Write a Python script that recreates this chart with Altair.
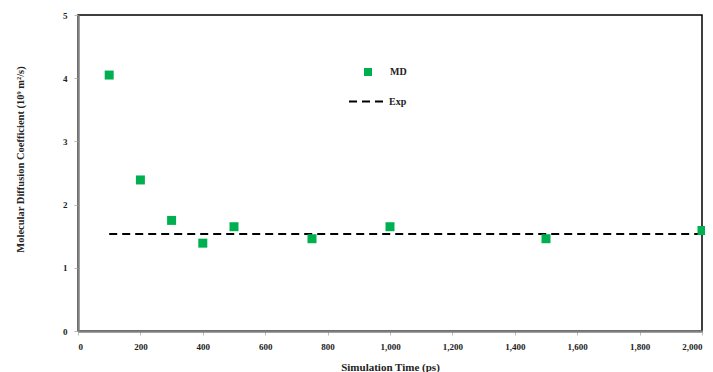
import altair as alt
import pandas as pd

time_ps = [100, 200, 300, 400, 500, 750, 1000, 1500, 2000]
md_values = [4.05, 2.39, 1.75, 1.39, 1.65, 1.46, 1.65, 1.46, 1.59]
exp_value = 1.535
exp_range = [100, 2000]
x_ticks = [0, 200, 400, 600, 800, 1000, 1200, 1400, 1600, 1800, 2000]
y_ticks = [0, 1, 2, 3, 4, 5]

md_df = pd.DataFrame({"t": time_ps, "D": md_values, "series": ["MD"] * len(time_ps)})
exp_df = pd.DataFrame({"t": [exp_range[0]], "t2": [exp_range[1]], "D": [exp_value], "series": ["Exp"]})

FONT = "Liberation Serif"

x_scale = alt.Scale(domain=[0, 2000], nice=False, zero=True)
y_scale = alt.Scale(domain=[0, 5], nice=False)

x_axis = alt.Axis(
    title="Simulation Time (ps)", values=x_ticks, format=",d", grid=False,
    domainColor="#808080", domainWidth=2.5, tickColor="#bbbbbb", tickSize=4,
    labelFont=FONT, labelFontWeight="bold", labelFontSize=9, labelColor="#222",
    labelPadding=7, titleFont=FONT, titleFontWeight="bold", titleFontSize=11,
    titleColor="#222", titlePadding=10,
)
y_axis = alt.Axis(
    title="Molecular Diffusion Coefficient (10⁹ m²/s)", values=y_ticks, format="d",
    grid=False,
    domainColor="#808080", domainWidth=2.5, tickColor="#bbbbbb", tickSize=4,
    labelFont=FONT, labelFontWeight="bold", labelFontSize=9, labelColor="#222",
    labelPadding=7, titleFont=FONT, titleFontWeight="bold", titleFontSize=10.5,
    titleColor="#222", titlePadding=37, titleY=144,
)

points = alt.Chart(md_df).mark_square(size=81, opacity=1, filled=True).encode(
    x=alt.X("t:Q", scale=x_scale, axis=x_axis),
    y=alt.Y("D:Q", scale=y_scale, axis=y_axis),
    color=alt.Color(
        "series:N",
        scale=alt.Scale(domain=["MD"], range=["#00b050"]),
        legend=alt.Legend(
            title=None, orient="none", legendX=285, legendY=52, padding=0,
            symbolType="square", symbolSize=64, symbolOpacity=1,
            labelFont=FONT, labelFontWeight="bold", labelFontSize=10,
            labelColor="#222", labelOffset=17,
        ),
    ),
)

exp_line = alt.Chart(exp_df).mark_rule(color="black", strokeWidth=2).encode(
    x=alt.X("t:Q", scale=x_scale),
    x2="t2:Q",
    y=alt.Y("D:Q", scale=y_scale),
    strokeDash=alt.StrokeDash(
        "series:N",
        scale=alt.Scale(domain=["Exp"], range=[[8, 5]]),
        legend=alt.Legend(
            title=None, orient="none", legendX=270, legendY=68, padding=0,
            symbolType="stroke", symbolSize=1225, symbolStrokeWidth=2,
            symbolStrokeColor="black",
            labelFont=FONT, labelFontWeight="bold", labelFontSize=10,
            labelColor="#222", labelOffset=4,
        ),
    ),
)

chart = alt.layer(exp_line, points).resolve_legend(
    color="independent", strokeDash="independent"
).properties(
    width=624, height=316,
    autosize=alt.AutoSizeParams(type="none"),
    padding={"left": 70, "top": 7, "right": 3, "bottom": 44},
    background="white",
).configure_view(stroke="black", strokeWidth=1.5)

chart.save("out.html", embed_options={"renderer": "svg", "actions": False})
